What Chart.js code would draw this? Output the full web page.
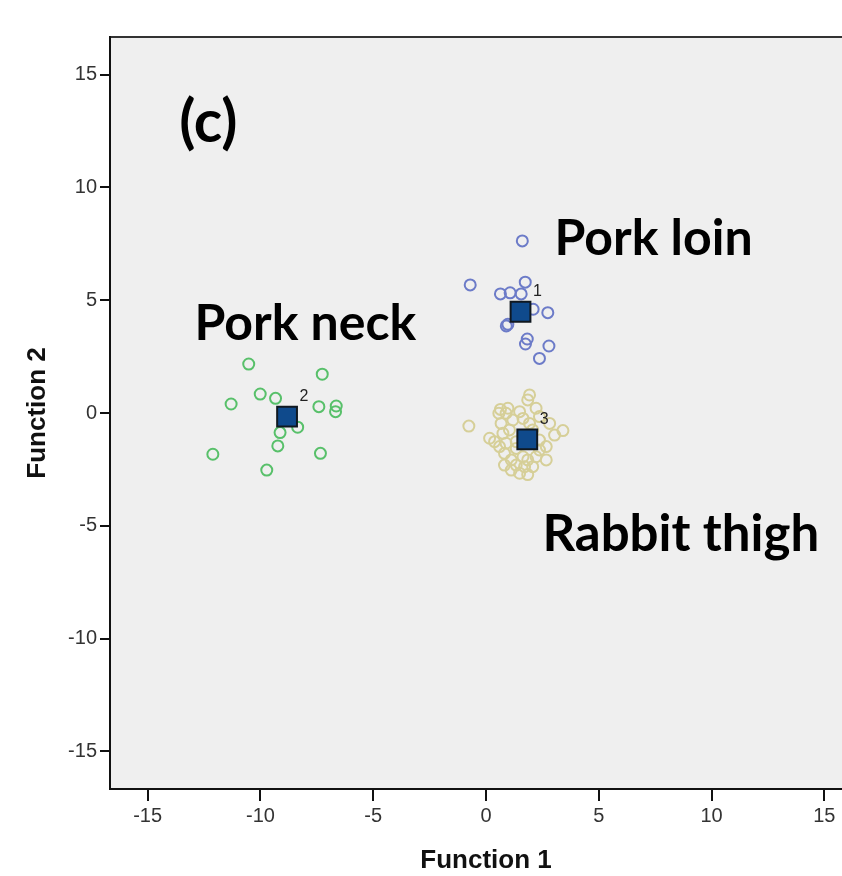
<!DOCTYPE html>
<html>
<head>
<meta charset="utf-8">
<script src="https://cdn.jsdelivr.net/npm/chart.js@4/dist/chart.umd.min.js"></script>
<style>
  html, body { margin: 0; padding: 0; background: #ffffff; overflow: hidden; }
  #wrap { width: 900px; height: 876px; }
</style>
</head>
<body>
<div id="wrap"><canvas id="c" width="900" height="876"></canvas></div>
<script>
// Discriminant function scores per sample (Function 1, Function 2)
const loinX = [1.61, -0.70, 1.74, 0.64, 1.07, 1.56, 2.09, 2.74, 0.97, 0.90, 1.83, 1.75, 2.79, 2.37];
const loinY = [7.63, 5.68, 5.80, 5.28, 5.33, 5.28, 4.60, 4.45, 3.93, 3.86, 3.28, 3.06, 2.97, 2.42];

const neckX = [-10.52, -7.26, -10.01, -9.33, -11.30, -7.41, -6.64, -6.67, -8.35, -9.13, -9.23, -12.11, -7.34, -9.72];
const neckY = [2.17, 1.72, 0.84, 0.65, 0.40, 0.28, 0.31, 0.06, -0.63, -0.87, -1.46, -1.83, -1.79, -2.53];

const rabbitX = [-0.76, 1.93, 1.85, 0.64, 0.97, 0.57, 0.89, 1.49, 2.22, 2.37, 0.16, 0.38, 0.75, 1.04, 3.41, 3.04, 2.82, 2.67, 0.82, 1.12, 0.82, 1.12, 1.49, 1.71, 1.85, 2.22, 2.67, 2.37, 1.34, 0.60, 0.89, 1.64, 2.07, 2.37, 1.19, 1.64, 1.93, 1.34, 2.07, 0.67, 1.34, 1.85];
const rabbitY = [-0.58, 0.80, 0.58, 0.16, 0.21, -0.01, -0.01, 0.06, 0.21, -0.16, -1.12, -1.27, -0.90, -0.75, -0.78, -0.98, -0.46, -1.49, -1.79, -2.08, -2.31, -2.53, -2.67, -2.38, -2.08, -1.94, -2.08, -1.64, -1.57, -1.49, -1.34, -1.94, -2.38, -1.20, -0.31, -0.24, -0.46, -1.27, -0.75, -0.46, -2.31, -2.73];

// Group centroids (1 = Pork loin, 2 = Pork neck, 3 = Rabbit thigh)
const centroidX = [1.53, -8.82, 1.83];
const centroidY = [4.49, -0.16, -1.17];
const centroidLabels = ['1', '2', '3'];

const groupNames = ['Pork loin', 'Pork neck', 'Rabbit thigh'];
const panelLabel = '(c)';
const tickValues = [-15, -10, -5, 0, 5, 10, 15];
const axisLimit = 16.67;

const zip = (xs, ys) => xs.map((x, i) => ({ x: x, y: ys[i] }));

// Text placed in data units (left edge, baseline)
const textAnchors = [
  { text: panelLabel,    x: -13.6,  y: 12.0,  size: 59 },
  { text: groupNames[0], x: 3.04,   y: 7.02,  size: 50 },
  { text: groupNames[1], x: -12.92, y: 3.23,  size: 50 },
  { text: groupNames[2], x: 2.5,    y: -6.12, size: 51 }
];

const plotDecor = {
  id: 'plotDecor',
  beforeDraw(chart) {
    const { ctx, chartArea: a } = chart;
    ctx.save();
    ctx.fillStyle = '#efefef';
    ctx.fillRect(a.left, a.top, a.right - a.left, a.bottom - a.top);
    ctx.strokeStyle = '#333333';
    ctx.lineWidth = 2;
    ctx.beginPath();
    ctx.moveTo(a.left, a.top);
    ctx.lineTo(a.right, a.top);
    ctx.stroke();
    ctx.restore();
  },
  afterDatasetsDraw(chart) {
    const { ctx, scales: { x, y } } = chart;
    ctx.save();
    // centroid numbers
    ctx.fillStyle = '#222222';
    ctx.font = '16px "Liberation Sans", Arial, sans-serif';
    ctx.textAlign = 'center';
    ctx.textBaseline = 'middle';
    centroidLabels.forEach((lab, i) => {
      const px = x.getPixelForValue(centroidX[i]);
      const py = y.getPixelForValue(centroidY[i]);
      ctx.fillText(lab, px + 17, py - 20);
    });
    // group names and panel letter
    ctx.fillStyle = '#000000';
    ctx.textAlign = 'left';
    ctx.textBaseline = 'alphabetic';
    textAnchors.forEach(t => {
      ctx.font = 'bold ' + t.size + 'px Lato, "Open Sans", sans-serif';
      ctx.fillText(t.text, x.getPixelForValue(t.x), y.getPixelForValue(t.y));
    });
    ctx.restore();
  }
};

const circle = (color) => ({
  pointStyle: 'circle',
  pointRadius: 5.5,
  pointHoverRadius: 5.5,
  pointBorderWidth: 2,
  pointBackgroundColor: 'rgba(0,0,0,0)',
  pointBorderColor: color,
  borderColor: color,
  backgroundColor: 'rgba(0,0,0,0)',
  showLine: false,
  order: 1
});

const tickFont = { family: '"Liberation Sans", Arial, sans-serif', size: 20 };
const titleFont = { family: '"Liberation Sans", Arial, sans-serif', size: 26, weight: 'bold' };

new Chart(document.getElementById('c'), {
  type: 'scatter',
  data: {
    datasets: [
      Object.assign({ label: 'Group Centroid', data: zip(centroidX, centroidY) }, {
        pointStyle: 'rect', pointRadius: 14, pointHoverRadius: 14, pointBorderWidth: 2,
        pointBackgroundColor: '#0f4a8c', pointBorderColor: '#101820',
        backgroundColor: '#0f4a8c', borderColor: '#101820', showLine: false, order: 0
      }),
      Object.assign({ label: groupNames[0], data: zip(loinX, loinY) }, circle('#6c7bc8')),
      Object.assign({ label: groupNames[1], data: zip(neckX, neckY) }, circle('#58c06a')),
      Object.assign({ label: groupNames[2], data: zip(rabbitX, rabbitY) }, circle('#d6cf98'))
    ]
  },
  options: {
    responsive: false,
    animation: false,
    events: [],
    layout: { padding: { top: 37, right: 38, bottom: 0, left: 0 } },
    plugins: { legend: { display: false }, tooltip: { enabled: false } },
    scales: {
      x: {
        type: 'linear',
        min: -axisLimit, max: axisLimit,
        afterBuildTicks: s => { s.ticks = tickValues.map(v => ({ value: v })); },
        afterFit: s => { s.height = 87; },
        ticks: { color: '#333333', font: tickFont, padding: 3, maxRotation: 0 },
        grid: { drawOnChartArea: false, drawTicks: true, tickLength: 12, color: '#111111', lineWidth: 2 },
        border: { display: true, color: '#111111', width: 2 },
        title: { display: true, text: 'Function 1', color: '#111111', font: titleFont, padding: { top: 0, bottom: 0 } }
      },
      y: {
        type: 'linear',
        min: -axisLimit, max: axisLimit,
        afterBuildTicks: s => { s.ticks = tickValues.map(v => ({ value: v })); },
        afterFit: s => { s.width = 110; },
        ticks: { color: '#333333', font: tickFont, padding: 3 },
        grid: { drawOnChartArea: false, drawTicks: true, tickLength: 10, color: '#111111', lineWidth: 2 },
        border: { display: true, color: '#111111', width: 2 },
        title: { display: true, text: 'Function 2', color: '#111111', font: titleFont, padding: { top: 22, bottom: 0 } }
      }
    }
  },
  plugins: [plotDecor]
});
</script>
</body>
</html>
